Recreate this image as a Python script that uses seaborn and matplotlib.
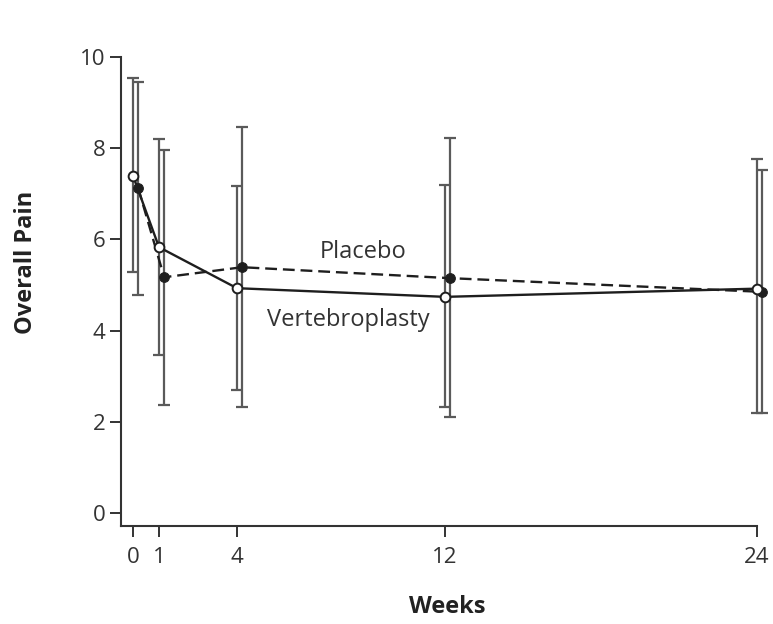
import matplotlib
matplotlib.use("Agg")
import matplotlib.pyplot as plt
import numpy as np
import pandas as pd
import seaborn as sns

# ---- data ----
weeks = [0, 1, 4, 12, 24]
vert_mean = [7.40, 5.83, 4.93, 4.74, 4.92]
vert_upper = [9.54, 8.20, 7.17, 7.19, 7.76]
vert_lower = [5.28, 3.47, 2.70, 2.32, 2.19]
plac_mean = [7.13, 5.17, 5.39, 5.15, 4.85]
plac_upper = [9.45, 7.96, 8.47, 8.22, 7.52]
plac_lower = [4.78, 2.37, 2.32, 2.10, 2.19]
xticks = [0, 1, 4, 12, 24]
yticks = [0, 2, 4, 6, 8, 10]
group_names = ["Vertebroplasty", "Placebo"]

# ---- style ----
sns.set_theme(style="ticks")
plt.rcParams["font.family"] = ["Open Sans", "DejaVu Sans"]
dodge = 0.2

fig = plt.figure(figsize=(7.73, 6.24), dpi=100)
ax = fig.add_axes([121 / 773, 1 - 526 / 624, 649 / 773, (526 - 57) / 624])

df = pd.DataFrame({
    "week": list(np.array(weeks, float)) + list(np.array(weeks, float) + dodge),
    "pain": vert_mean + plac_mean,
    "group": [group_names[0]] * len(weeks) + [group_names[1]] * len(weeks),
})

line_col = "#1e1e1e"
bar_col = "#5a5a5a"

# error bars
for off, m, lo, hi in [(0.0, vert_mean, vert_lower, vert_upper),
                       (dodge, plac_mean, plac_lower, plac_upper)]:
    x = np.array(weeks, float) + off
    m = np.array(m)
    ax.errorbar(x, m, yerr=[m - np.array(lo), np.array(hi) - m], fmt="none",
                ecolor=bar_col, elinewidth=1.6, capsize=4, capthick=1.6,
                zorder=2, clip_on=False)

sns.lineplot(data=df[df.group == group_names[1]], x="week", y="pain", ax=ax,
             color=line_col, linewidth=1.7, linestyle=(0, (5, 2.5)),
             marker="o", markersize=7, markerfacecolor=line_col,
             markeredgecolor=line_col, zorder=3, clip_on=False, legend=False)
sns.lineplot(data=df[df.group == group_names[0]], x="week", y="pain", ax=ax,
             color=line_col, linewidth=1.7, linestyle="-",
             marker="o", markersize=7, markerfacecolor="white",
             markeredgecolor=line_col, markeredgewidth=1.4, zorder=4,
             clip_on=False, legend=False)

# in-plot labels
ax.text(8.85, 5.72, group_names[1], fontsize=17, color="#333333",
        ha="center", va="center")
ax.text(8.27, 4.23, group_names[0], fontsize=17, color="#333333",
        ha="center", va="center")

# axes
ax.set_xlim(-0.46, 24.5)
ax.set_ylim(-0.285, 10)
ax.set_xticks(xticks)
ax.set_yticks(yticks)
ax.spines["right"].set_visible(False)
ax.spines["top"].set_visible(False)
ax.spines["bottom"].set_bounds(-0.46, 24)
ax.spines["left"].set_bounds(-0.285, 10)
for s in ("left", "bottom"):
    ax.spines[s].set_color("#333333")
    ax.spines[s].set_linewidth(1.5)
ax.tick_params(axis="both", direction="out", length=8, width=1.4,
               color="#333333", labelcolor="#333333", labelsize=16)
ax.tick_params(axis="x", pad=7)
ax.tick_params(axis="y", pad=3)

ax.set_xlabel("Weeks", fontsize=17, fontweight="bold", color="#222222")
ax.set_ylabel("Overall Pain", fontsize=17, fontweight="bold", color="#222222")
ax.xaxis.set_label_coords(0.502, -0.148)
ax.yaxis.set_label_coords(-0.128, 0.563)

fig.savefig("out.png", dpi=100)
